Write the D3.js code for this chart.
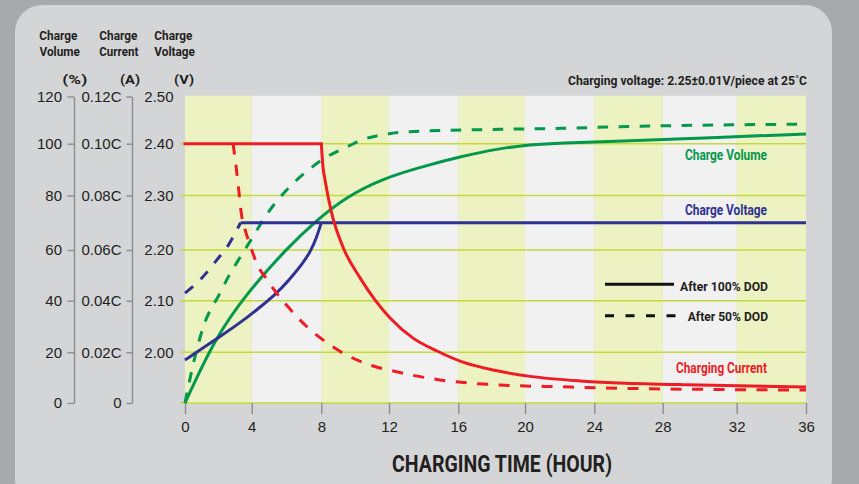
<!DOCTYPE html>
<html><head><meta charset="utf-8">
<script src="https://cdn.jsdelivr.net/npm/d3@7"></script>
<style>html,body{margin:0;padding:0;background:#a8a9ab;}svg{display:block}</style>
</head><body>
<svg id="c" width="859" height="484"></svg>
<script>
// ---------------- data ----------------
const hourTicks = [0, 4, 8, 12, 16, 20, 24, 28, 32, 36];
const volumeTicks = [0, 20, 40, 60, 80, 100, 120];
const currentTicks = [0, 0.02, 0.04, 0.06, 0.08, 0.10, 0.12];
const currentTickLabels = ["0", "0.02C", "0.04C", "0.06C", "0.08C", "0.10C", "0.12C"];
const voltageDomain = [1.90, 2.00, 2.10, 2.20, 2.30, 2.40, 2.50];
const voltageTicks = [2.00, 2.10, 2.20, 2.30, 2.40, 2.50];

// [hour, charge volume %]
const volume100 = [[0,0],[1.8,25.5],[3.7,42.9],[6.01,60.6],[7.74,71.0],[9.5,79.6],[11.66,86.6],[13.79,90.9],[16.1,95.0],[18.5,98.2],[20.29,99.6],[22.02,100.3],[25.5,101.1],[30,102.4],[36,104.1]];
const volume50 = [[0,0],[0.6,18.3],[1.1,29.9],[2.1,43.0],[2.59,49.3],[3.19,55.9],[3.9,63.1],[4.86,73.0],[6.01,82.1],[7.16,89.3],[8.12,94.1],[9.3,98.1],[10.48,101.8],[11.67,103.8],[13.21,105.1],[18.5,106.1],[22.02,106.5],[25.5,107.2],[36,108.3]];
// [hour, charging current in C]
const current100 = [[0,0.100],[8,0.100],[8.10,0.0910],[8.22,0.0860],[8.61,0.0736],[9.28,0.0611],[10.29,0.0490],[11.17,0.0403],[12.06,0.0333],[13.39,0.0255],[14.77,0.0205],[16.28,0.0161],[18.32,0.0127],[20.29,0.0105],[23.18,0.0087],[25.5,0.0079],[30,0.0071],[36,0.0063]];
const current50 = [[2.88,0.100],[3.0,0.0945],[3.2,0.0834],[3.4,0.0725],[3.65,0.0665],[3.9,0.0618],[4.33,0.0541],[4.9,0.0482],[5.43,0.0430],[6.0,0.0383],[7.16,0.0300],[8.1,0.0248],[9.28,0.0197],[10.87,0.0150],[12.44,0.0123],[14.94,0.0091],[18.5,0.0071],[22,0.0064],[25.5,0.0058],[30,0.0054],[36,0.0051]];
// [hour, charge voltage V]
const voltage100 = [[0,1.985],[1.9,2.026],[3.7,2.066],[5.44,2.114],[6.1,2.139],[6.9,2.172],[7.4,2.198],[7.74,2.224],[8,2.25]];
const voltage50 = [[0,2.115],[0.9,2.141],[1.9,2.180],[2.6,2.209],[3.33,2.25]];
const voltageHold = [[3.33,2.25],[36,2.25]];

// ---------------- layout ----------------
const svg = d3.select("#c");
const FONT = "Liberation Sans, Arial, sans-serif";
const BOLD = "Roboto, Liberation Sans, sans-serif";
const INK = "#231f20";
const GREEN = "#00984a", RED = "#ee1c25", BLUE = "#2e3192";

svg.append("rect").attr("x",0).attr("y",0).attr("width",859).attr("height",484).attr("fill","#a8a9ab");
svg.append("rect").attr("x",15).attr("y",5).attr("width",817).attr("height",500).attr("rx",27).attr("fill","#d4d5d7");

const x = d3.scaleLinear().domain(hourTicks).range([185,251.7,321.3,389,458.3,525,594.3,662.7,736.7,806]);
const yRange = [403,352.3,300.7,250,195.5,143.7,96.5];
const yVol = d3.scaleLinear().domain(volumeTicks).range(yRange);
const yCur = d3.scaleLinear().domain(currentTicks).range(yRange);
const yVolt = d3.scaleLinear().domain(voltageDomain).range(yRange);

// bands
const bands = svg.append("g");
for (let i = 0; i < hourTicks.length - 1; i++) {
  bands.append("rect")
    .attr("x", x(hourTicks[i])).attr("width", x(hourTicks[i+1]) - x(hourTicks[i]))
    .attr("y", yVol(120) - 0.8).attr("height", yVol(0) - yVol(120) + 0.8)
    .attr("fill", i % 2 === 0 ? "#edf2c2" : "#f1f1f1");
}
// gridlines
svg.append("g").selectAll("line").data(volumeTicks.filter(d => d < 120)).join("line")
  .attr("x1", 180).attr("x2", x(36)).attr("y1", d => yVol(d)).attr("y2", d => yVol(d))
  .attr("stroke", "#c6d93c").attr("stroke-width", 1.6);

// axes
function styleAxis(g, hideDomain) {
  g.selectAll("text").attr("font-family", FONT).attr("font-size", 15).attr("fill", INK);
  g.selectAll("line").attr("stroke", "#8d8d8f").attr("stroke-width", 1.4);
  g.select(".domain").attr("stroke", hideDomain ? "none" : "#8d8d8f").attr("stroke-width", 1.4);
}
svg.append("g").attr("transform", "translate(74,0)")
  .call(d3.axisLeft(yVol).tickValues(volumeTicks).tickSize(6.5).tickSizeOuter(0).tickPadding(5.5))
  .call(g => styleAxis(g, false));
svg.append("g").attr("transform", "translate(132,0)")
  .call(d3.axisLeft(yCur).tickValues(currentTicks).tickFormat((d,i) => currentTickLabels[i]).tickSize(5.5).tickSizeOuter(0).tickPadding(5))
  .call(g => styleAxis(g, false));
svg.append("g").attr("transform", "translate(180,0)")
  .call(d3.axisLeft(yVolt).tickValues(voltageTicks).tickFormat(d3.format(".2f")).tickSize(0).tickPadding(6.5))
  .call(g => { styleAxis(g, true); g.selectAll("line").remove(); });
svg.append("g").attr("transform", "translate(0,403)")
  .call(d3.axisBottom(x).tickValues(hourTicks).tickFormat(d3.format("d")).tickSize(11).tickSizeOuter(0).tickPadding(7.6))
  .call(g => styleAxis(g, true));

// curves
function curve(data, ys, color, dash, cap, kind) {
  const line = d3.line().x(d => x(d[0])).y(d => ys(d[1])).curve(kind || d3.curveMonotoneX);
  svg.append("path").attr("d", line(data)).attr("fill", "none")
    .attr("stroke", color).attr("stroke-width", 3)
    .attr("stroke-dasharray", dash || null).attr("stroke-linejoin", "miter")
    .attr("stroke-linecap", cap || "butt");
}
curve(volume50, yVol, GREEN, "10.5,10.5");
curve(volume100, yVol, GREEN, null, null, d3.curveBasis);
curve(voltage50, yVolt, BLUE, "10.5,10.5");
curve(voltageHold, yVolt, BLUE);
curve(voltage100, yVolt, BLUE, null, null, d3.curveBasis);
curve(current50, yCur, RED, "11,10.5");
curve(current100.slice(0, 2), yCur, RED, null, "square");
curve(current100.slice(1), yCur, RED);

// texts
function txt(xp, yp, s, size, color, len, anchor) {
  const t = svg.append("text").attr("x", xp).attr("y", yp).text(s)
    .attr("font-family", BOLD).attr("font-weight", 700).attr("font-size", size).attr("fill", color)
    .attr("text-anchor", anchor || "start");
  if (len) t.attr("textLength", len).attr("lengthAdjust", "spacingAndGlyphs");
  return t;
}
txt(39.3, 40, "Charge", 12.8, INK, 38);
txt(39.5, 56, "Volume", 12.8, INK, 40.5);
txt(99.3, 40, "Charge", 12.8, INK, 38);
txt(99.3, 56, "Current", 12.8, INK, 39);
txt(154.3, 40, "Charge", 12.8, INK, 38);
txt(154.3, 56, "Voltage", 12.8, INK, 40.7);
txt(62.3, 84, "(%)", 13.5, INK, 25);
txt(120, 84, "(A)", 13.5, INK, 20);
txt(174, 84, "(V)", 13.5, INK, 20);
txt(568, 85, "Charging voltage: 2.25±0.01V/piece at 25˚C", 13.5, INK, 239);
txt(685, 160, "Charge Volume", 14, GREEN, 82);
txt(685, 215, "Charge Voltage", 14, BLUE, 82);
txt(676, 373, "Charging Current", 14, RED, 91);
txt(680, 291, "After 100% DOD", 13.5, INK, 88);
txt(687.7, 321, "After 50% DOD", 13.5, INK, 80.3);
txt(392, 472, "CHARGING TIME (HOUR)", 23.5, INK, 220);

// legend lines
svg.append("line").attr("x1", 605).attr("x2", 674).attr("y1", 284.3).attr("y2", 284.3)
  .attr("stroke", "#111").attr("stroke-width", 3);
svg.append("line").attr("x1", 605).attr("x2", 676).attr("y1", 315.7).attr("y2", 315.7)
  .attr("stroke", "#111").attr("stroke-width", 3).attr("stroke-dasharray", "9,11.5");
</script>
</body></html>
